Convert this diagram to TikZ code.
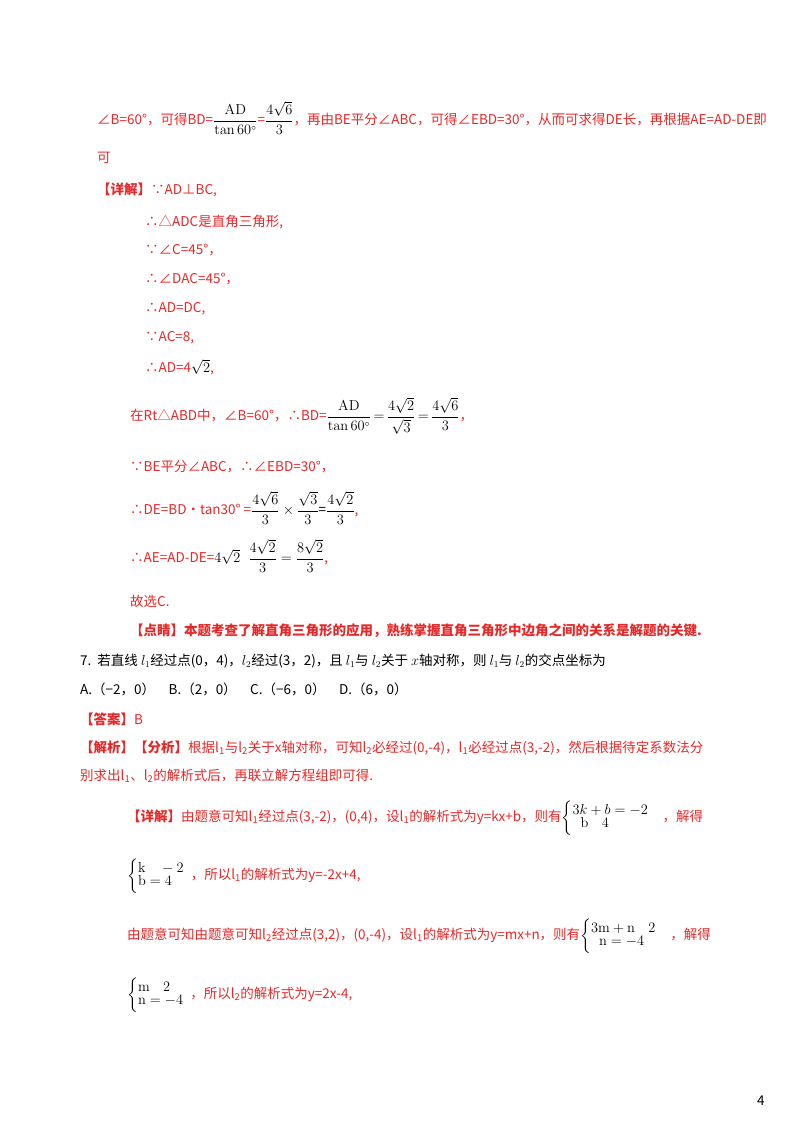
\documentclass[tikz,border=0pt]{standalone}
\usepackage{amsmath}
\usepackage[no-math]{fontspec}
\setmainfont{Noto Sans CJK SC}
\definecolor{rd}{RGB}{232,40,40}
\newcommand{\bk}[1]{{\color{black}#1}}
\newcommand{\sysb}[2]{\bk{$\left\{\begin{array}{@{}l@{}}#1\\[-3pt] #2\end{array}\right.$}}
\begin{document}
\begin{tikzpicture}[x=1pt,y=-1pt,
  t/.style={anchor=west,inner sep=0pt,text=rd,font=\fontsize{13.5}{16}\selectfont},
  b/.style={t,text=black}]
\useasboundingbox (0,0) rectangle (800,1132);
\node[t] (l1) at (97,118) {∠B=60°，可得BD=\bk{$\dfrac{\mathrm{AD}}{\tan60^\circ}$}=\bk{$\dfrac{4\sqrt6}{3}$}，再由BE平分∠ABC，可得∠EBD=30°，从而可求得DE长，再根据AE=AD-DE即};
\node[t] (l2) at (97,158) {可};
\node[t] (l3) at (97,190) {\textbf{【详解】}∵AD⊥BC,};
\node[t] (l4) at (145,222) {∴△ADC是直角三角形,};
\node[t] (l5) at (145,250) {∵∠C=45°，};
\node[t] (l6) at (145,279) {∴∠DAC=45°，};
\node[t] (l7) at (145,309) {∴AD=DC,};
\node[t] (l8) at (145,338) {∵AC=8,};
\node[t] (l9) at (145,367) {∴AD=4\bk{$\sqrt2$},};
\node[t] (l10) at (130,416) {在Rt△ABD中，∠B=60°，∴BD=\bk{$\dfrac{\mathrm{AD}}{\tan60^\circ}\,{=}\,\dfrac{4\sqrt2}{\sqrt3}\,{=}\,\dfrac{4\sqrt6}{3}$}，};
\node[t] (l11) at (130,467) {∵BE平分∠ABC，∴∠EBD=30°，};
\node[t] (l12) at (130,508) {∴DE=BD•tan30° =\bk{$\dfrac{4\sqrt6}{3}\times\dfrac{\sqrt3}{3}$=$\dfrac{4\sqrt2}{3}$},};
\node[t] (l13) at (130,556) {∴AE=AD-DE=\bk{$4\sqrt2\;\;\dfrac{4\sqrt2}{3}=\dfrac{8\sqrt2}{3}$},};
\node[t] (l14) at (130,601) {故选C.};
\node[t] (l15) at (130,631) {\textbf{【点睛】本题考查了解直角三角形的应用，熟练掌握直角三角形中边角之间的关系是解题的关键.}};
\node[b] (q7) at (80,661) {7.\ \ 若直线 $l_1$经过点(0，4)，$l_2$经过(3，2)，且 $l_1$与 $l_2$关于 $x$轴对称，则 $l_1$与 $l_2$的交点坐标为};
\node[b] (opt) at (80,689) {A.（−2，0）\quad B.（2，0）\quad C.（−6，0）\quad D.（6，0）};
\node[t] (ans) at (80,719) {\textbf{【答案】}B};
\node[t] (j1) at (80,748) {\textbf{【解析】【分析】}根据l\textsubscript{1}与l\textsubscript{2}关于x轴对称，可知l\textsubscript{2}必经过(0,-4)，l\textsubscript{1}必经过点(3,-2)，然后根据待定系数法分};
\node[t] (j2) at (80,776) {别求出l\textsubscript{1}、l\textsubscript{2}的解析式后，再联立解方程组即可得.};
\node[t] (d1) at (127,818) {\textbf{【详解】}由题意可知l\textsubscript{1}经过点(3,-2)，(0,4)，设l\textsubscript{1}的解析式为y=kx+b，则有\sysb{3k+b=-2}{\;\;\mathrm{b}\quad 4}\quad ，解得};
\node[t] (d2) at (127,876) {\sysb{\mathrm{k}\quad -2}{\mathrm{b}=4}\ \ ，所以l\textsubscript{1}的解析式为y=-2x+4,};
\node[t] (d3) at (127,936) {由题意可知由题意可知l\textsubscript{2}经过点(3,2)，(0,-4)，设l\textsubscript{1}的解析式为y=mx+n，则有\sysb{3\mathrm{m}+\mathrm{n}\quad 2}{\;\;\mathrm{n}=-4}\quad ，解得};
\node[t] (d4) at (127,995) {\sysb{\mathrm{m}\quad 2}{\mathrm{n}=-4}\ \ ，所以l\textsubscript{2}的解析式为y=2x-4,};
\node[b] (pg) at (757,1101) {4};
\end{tikzpicture}
\end{document}
